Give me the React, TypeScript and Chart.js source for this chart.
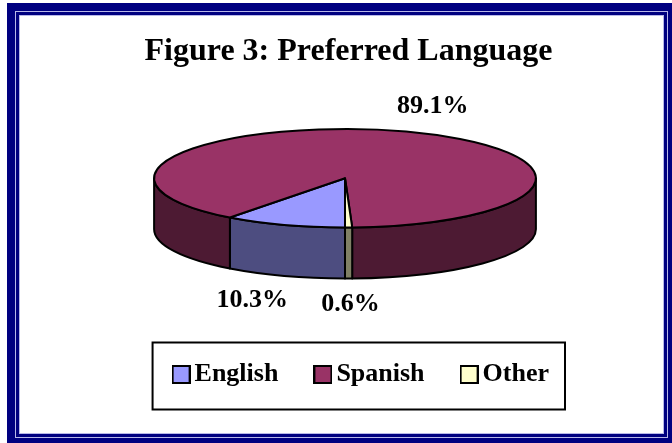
import { useEffect, useRef } from 'react';
import { Chart, registerables } from 'chart.js';

Chart.register(...registerables);

// ---- data ----
const categories = ['English', 'Spanish', 'Other'];
const shares = [10.3, 89.1, 0.6];
const shareLabels = ['10.3%', '89.1%', '0.6%'];
const topColors = ['#9999FF', '#993366', '#FFFFCC'];
const sideColors = ['#4D4D80', '#4D1A33', '#808066'];
const titleText = 'Figure 3: Preferred Language';

const FONT = "'Liberation Serif', 'Times New Roman', Times, serif";

const pie3d = {
  id: 'pie3d',
  beforeDatasetsDraw(chart: any, _args: any, opts: any) {
    const { ctx, chartArea } = chart;
    const meta = chart.getDatasetMeta(0);
    const depth = opts.depth;
    const ry = (chartArea.height - depth) / 2;
    const rx = ry / opts.tilt;
    const cx = (chartArea.left + chartArea.right) / 2 + (opts.offsetX || 0);
    const cy = chartArea.top + ry;
    const TWO_PI = Math.PI * 2;
    ctx.save();
    ctx.lineWidth = opts.lineWidth;
    ctx.strokeStyle = opts.lineColor;
    ctx.lineJoin = 'round';
    // side walls (front half only)
    meta.data.forEach((arc: any, i: number) => {
      const a0 = arc.startAngle;
      const a1 = arc.endAngle;
      for (let k = -2; k <= 2; k++) {
        const lo = Math.max(a0 + TWO_PI * k, 0);
        const hi = Math.min(a1 + TWO_PI * k, Math.PI);
        if (hi <= lo) continue;
        ctx.beginPath();
        ctx.ellipse(cx, cy, rx, ry, 0, lo, hi, false);
        ctx.lineTo(cx + rx * Math.cos(hi), cy + depth + ry * Math.sin(hi));
        ctx.ellipse(cx, cy + depth, rx, ry, 0, hi, lo, true);
        ctx.closePath();
        ctx.fillStyle = sideColors[i];
        ctx.fill();
        ctx.stroke();
      }
    });
    // top faces
    meta.data.forEach((arc: any) => {
      ctx.beginPath();
      ctx.moveTo(cx, cy);
      ctx.ellipse(cx, cy, rx, ry, 0, arc.startAngle, arc.endAngle, false);
      ctx.closePath();
      ctx.fillStyle = arc.options.backgroundColor;
      ctx.fill();
      ctx.stroke();
    });
    // percentage labels
    ctx.fillStyle = '#000';
    ctx.font = `bold ${opts.labelSize}px ${FONT}`;
    ctx.textAlign = 'center';
    ctx.textBaseline = 'middle';
    meta.data.forEach((arc: any, i: number) => {
      const mid = (arc.startAngle + arc.endAngle) / 2;
      const s = Math.sin(mid);
      const x = cx + rx * opts.labelDistance * Math.cos(mid);
      const y = cy + ry * opts.labelDistance * s + (s > 0 ? depth : 0);
      ctx.fillText(shareLabels[i], x, y);
    });
    ctx.restore();
    return false;
  },
};

const legendFrame = {
  id: 'legendFrame',
  afterDraw(chart: any, _args: any, opts: any) {
    const legend = chart.legend;
    if (!legend || !legend.legendHitBoxes || !legend.legendHitBoxes.length) return;
    const boxes = legend.legendHitBoxes;
    let left = Infinity;
    let right = -Infinity;
    boxes.forEach((b: any) => {
      left = Math.min(left, b.left);
      right = Math.max(right, b.left + b.width);
    });
    const mid = boxes[0].top + boxes[0].height / 2;
    const { ctx } = chart;
    ctx.save();
    ctx.lineWidth = opts.lineWidth;
    ctx.strokeStyle = '#000';
    ctx.strokeRect(left - opts.padLeft, mid - opts.padTop, right - left + opts.padLeft + opts.padRight, opts.padTop + opts.padBottom);
    ctx.restore();
  },
};

function makeSwatch(color: string): HTMLCanvasElement {
  const c = document.createElement('canvas');
  c.width = 19;
  c.height = 19;
  const g = c.getContext('2d')!;
  g.fillStyle = '#000';
  g.fillRect(0, 0, 19, 19);
  g.fillStyle = color;
  g.fillRect(2, 2, 15, 15);
  return c;
}

export default function App() {
  const ref = useRef<HTMLCanvasElement | null>(null);

  useEffect(() => {
    if (!ref.current) return;
    const swatches = topColors.map(makeSwatch);
    const chart = new Chart(ref.current, {
      type: 'pie',
      data: {
        labels: categories,
        datasets: [
          {
            data: shares,
            backgroundColor: topColors,
            borderColor: '#000',
            borderWidth: 2,
          },
        ],
      },
      options: {
        responsive: false,
        animation: false,
        events: [],
        rotation: 180,
        layout: { padding: { left: 104, right: 79, top: 0, bottom: 45.5 } },
        plugins: {
          title: {
            display: true,
            text: titleText,
            color: '#000',
            font: { family: FONT, size: 32, weight: 'bold', lineHeight: 1.2 },
            padding: { top: 32.3, bottom: 58.3 },
          },
          legend: {
            position: 'bottom',
            align: 'end',
            title: {
              display: true,
              text: '',
              font: { size: 12, lineHeight: 1.2 },
              padding: { top: 24.6, bottom: 0 },
            },
            labels: {
              usePointStyle: true,
              boxWidth: 1,
              padding: 44,
              color: '#000',
              font: { family: FONT, size: 26, weight: 'bold' },
              generateLabels: (ch: any) =>
                categories.map((c, i) => ({
                  text: c,
                  fillStyle: topColors[i],
                  strokeStyle: '#000',
                  lineWidth: 2,
                  pointStyle: swatches[i],
                  fontColor: '#000',
                  hidden: !ch.getDataVisibility(i),
                  index: i,
                })),
            },
          },
          tooltip: { enabled: false },
          pie3d: { depth: 51, tilt: 0.258, offsetX: -3.5, lineWidth: 2, lineColor: '#000', labelSize: 26, labelDistance: 1.53 },
          legendFrame: { lineWidth: 2, padLeft: 28, padRight: 16, padTop: 32, padBottom: 35 },
        } as any,
      },
      plugins: [pie3d, legendFrame],
    } as any);
    return () => chart.destroy();
  }, []);

  const light = '#b8b8e8';
  const navy = '#000080';
  return (
    <div style={{ position: 'fixed', left: 0, top: 0, width: 672, height: 443, overflow: 'hidden', background: '#fff' }}>
      <div style={{ position: 'absolute', left: 7, top: 3, width: 669, height: 443, boxSizing: 'border-box', border: `8px solid ${navy}` }}>
        <div style={{ position: 'absolute', inset: 0, border: `1px solid ${light}` }}>
          <div style={{ position: 'absolute', inset: 0, border: `3px solid ${navy}` }}>
            <div style={{ position: 'absolute', inset: 0, border: `1px solid ${light}`, background: '#fff' }} />
          </div>
        </div>
      </div>
      <canvas ref={ref} width={672} height={443} style={{ position: 'absolute', left: 0, top: 0, width: 672, height: 443 }} />
    </div>
  );
}
